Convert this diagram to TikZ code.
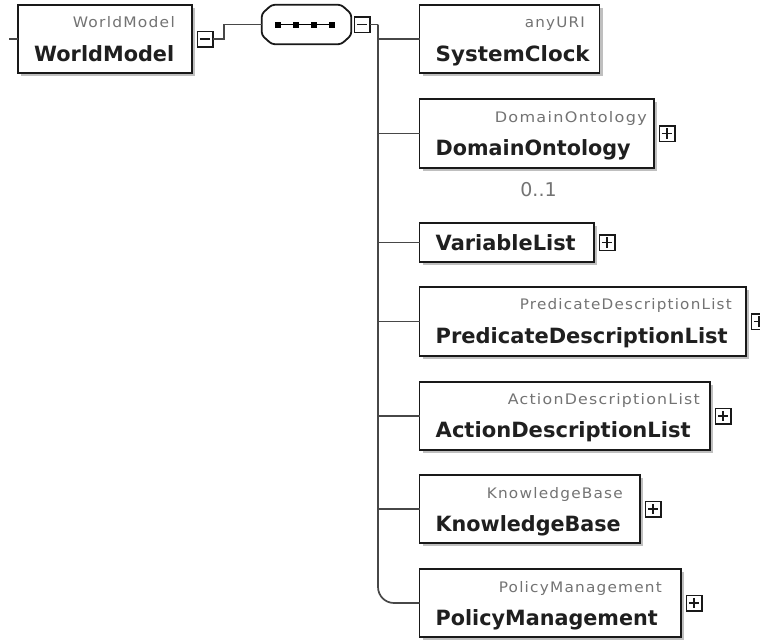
\documentclass[tikz,border=0pt]{standalone}
\usepackage{fontspec}
\setmainfont{DejaVu Sans}
\newfontfamily\tagfont[LetterSpace=8]{DejaVu Sans}
\usetikzlibrary{shadows,calc}
% stretch or squeeze a text horizontally to a given width (in pt)
\newcommand\fitto[2]{\resizebox{#1pt}{\height}{#2}}

\begin{document}
\begin{tikzpicture}[x=1pt,y=-1pt,
  conn/.style={draw=black!72, line width=1.7pt},
  elbox/.style={draw=black!90, line width=1.8pt, fill=white, inner sep=0pt,
    outer sep=0pt, anchor=north west,
    drop shadow={shadow xshift=3pt, shadow yshift=-3pt, fill=black!25, opacity=1}},
  togglebox/.style={draw=black!90, line width=1.5pt, fill=white, inner sep=0pt,
    outer sep=0pt, minimum size=15.5pt},
  togglemark/.style={line width=1.1pt, black!90},
  elname/.style={inner sep=0pt, anchor=base west, text=black!88,
    font=\fontsize{21}{25}\selectfont\bfseries},
  eltype/.style={inner sep=0pt, anchor=base east, text=black!55,
    font=\tagfont\fontsize{14.5}{17}\selectfont},
  card/.style={inner sep=0pt, anchor=base, text=black!55,
    font=\fontsize{19}{22}\selectfont},
]
\useasboundingbox (0,0) rectangle (760,641);
\fill[white] (0,0) rectangle (760,641);

% ---------- root element ----------
\coordinate (in) at (9,39);
\node[elbox, minimum width=174pt, minimum height=68pt] (wm) at (18,5) {};
\node[eltype] (wmT) at (175,27) {\fitto{102}{WorldModel}};
\node[elname] (wmN) at (34,61) {\fitto{140}{WorldModel}};
\draw[conn] (in) -- (wm.west);
\node[togglebox] (wmX) at ($(wm.east)+(13,0)$) {};
\draw[togglemark] ([xshift=2.5pt]wmX.west) -- ([xshift=-2.5pt]wmX.east);

% ---------- sequence compositor ----------
\node[inner sep=0pt, minimum width=89pt, minimum height=39pt] (seq) at (306.5,24.5) {};
\newcommand\seqoutline{($(seq.north west)+(10,0)$) -- ($(seq.north east)+(-10,0)$)
  -- ($(seq.north east)+(0,9)$) -- ($(seq.south east)+(0,-9)$)
  -- ($(seq.south east)+(-10,0)$) -- ($(seq.south west)+(10,0)$)
  -- ($(seq.south west)+(0,-9)$) -- ($(seq.north west)+(0,9)$) -- cycle}
\fill[black!25, rounded corners=3pt, xshift=3pt, yshift=-3pt] \seqoutline;
\draw[draw=black!90, fill=white, line width=1.8pt, rounded corners=3pt] \seqoutline;
\draw[line width=1.5pt] (278,24.5) -- (332,24.5);
\foreach \dx in {278,296,314,332}
  \fill (\dx-3,21.5) rectangle (\dx+3,27.5);

\coordinate (bend) at (224,39);
\draw[conn] (wmX.east) -- (bend) |- (seq.west);

\node[togglebox] (seqX) at (362,24.5) {};
\draw[togglemark] ([xshift=2.5pt]seqX.west) -- ([xshift=-2.5pt]seqX.east);
\coordinate (trunk) at (378,24.5);
\draw[conn] (seqX.east) -- (trunk);

% ---------- child elements ----------
\node[elbox, minimum width=180pt, minimum height=68pt] (sc) at (419.5,5) {};
\node[eltype] (scT) at (585,27) {\fitto{60}{anyURI}};
\node[elname] (scN) at (435.5,61) {\fitto{154}{SystemClock}};

\node[elbox, minimum width=234.5pt, minimum height=69pt] (do) at (419.5,99) {};
\node[eltype] (doT) at (647,122) {\fitto{152}{DomainOntology}};
\node[elname] (doN) at (435.5,155) {\fitto{195}{DomainOntology}};
\node[card] (doC) at (538.5,196) {0..1};

\node[elbox, minimum width=174.5pt, minimum height=39pt] (vl) at (419.5,223) {};
\node[elname] (vlN) at (435.5,250) {\fitto{140}{VariableList}};

\node[elbox, minimum width=326.5pt, minimum height=69pt] (pdl) at (419.5,287) {};
\node[eltype] (pdlT) at (732,309) {\fitto{212}{PredicateDescriptionList}};
\node[elname] (pdlN) at (435.5,343) {\fitto{292}{PredicateDescriptionList}};

\node[elbox, minimum width=290.5pt, minimum height=68pt] (adl) at (419.5,382) {};
\node[eltype] (adlT) at (700,404) {\fitto{192}{ActionDescriptionList}};
\node[elname] (adlN) at (435.5,437) {\fitto{255}{ActionDescriptionList}};

\node[elbox, minimum width=220.5pt, minimum height=68pt] (kb) at (419.5,475) {};
\node[eltype] (kbT) at (623,498) {\fitto{136}{KnowledgeBase}};
\node[elname] (kbN) at (435.5,531) {\fitto{185}{KnowledgeBase}};

\node[elbox, minimum width=261.5pt, minimum height=68pt] (pm) at (419.5,569) {};
\node[eltype] (pmT) at (662,592) {\fitto{163}{PolicyManagement}};
\node[elname] (pmN) at (435.5,625) {\fitto{222}{PolicyManagement}};

% expand toggles of the children
\foreach \el in {do,vl,pdl,adl,kb,pm}{
  \node[togglebox] (\el X) at ($(\el.east)+(13,0)$) {};
  \draw[togglemark] ([xshift=2.5pt]\el X.west) -- ([xshift=-2.5pt]\el X.east);
  \draw[togglemark] ([yshift=-2.5pt]\el X.north) -- ([yshift=2.5pt]\el X.south);
}

% ---------- connectors ----------
\draw[conn, rounded corners=16pt] (trunk) |- (pm.west);
\foreach \el in {sc,do,vl,pdl,adl,kb}
  \draw[conn] (trunk |- \el.west) -- (\el.west);

\end{tikzpicture}
\end{document}
